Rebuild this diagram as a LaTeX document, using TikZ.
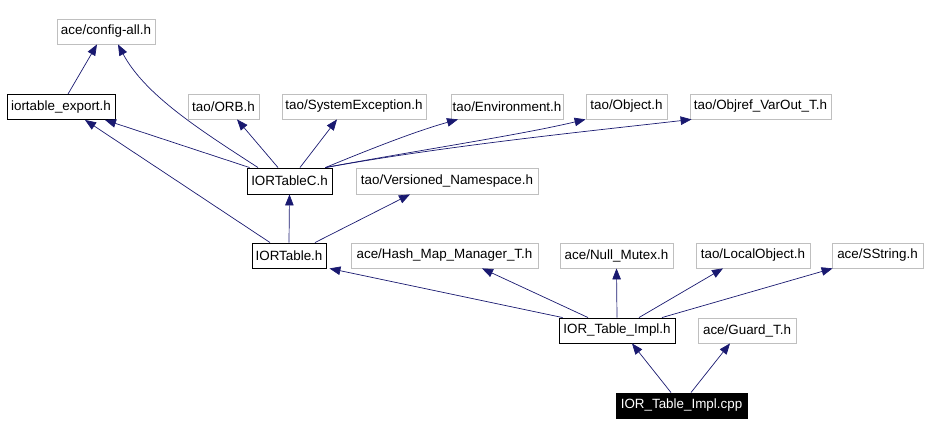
\documentclass[tikz,border=0pt]{standalone}
\usepackage{fontspec}
\setmainfont{Liberation Sans}
\usetikzlibrary{arrows.meta,calc}
\definecolor{edgeblue}{HTML}{191970}
\definecolor{boxgray}{HTML}{BFBFBF}
\tikzset{
  gbox/.style={draw=boxgray, line width=0.8pt, minimum height=25pt, inner sep=0pt, font=\fontsize{13.4}{15}\selectfont, text=black},
  kbox/.style={draw=black, line width=0.9pt, minimum height=25pt, inner sep=0pt, font=\fontsize{13.4}{15}\selectfont, text=black},
  fbox/.style={draw=black, fill=black, line width=0.9pt, minimum height=25pt, inner sep=0pt, font=\fontsize{13.4}{15}\selectfont, text=white},
  dep/.style={draw=edgeblue, line width=0.7pt, -{Triangle[length=11pt,width=8.5pt]}, fill=none},
}
\begin{document}
\begin{tikzpicture}[x=1pt,y=-1pt]
\useasboundingbox (0,0) rectangle (927,435);
% nodes
\node[gbox, minimum width=98pt] (config) at (106,31.5) {ace/config-all.h};
\node[kbox, minimum width=108pt] (export) at (61,107) {iortable\_export.h};
\node[gbox, minimum width=71pt] (orb) at (223.5,106.5) {tao/ORB.h};
\node[gbox, minimum width=144pt] (sysexc) at (354,106.5) {tao/SystemException.h};
\node[gbox, minimum width=112pt] (env) at (507,106.5) {tao/Environment.h};
\node[gbox, minimum width=81pt] (object) at (626.5,106.5) {tao/Object.h};
\node[gbox, minimum width=141pt] (objref) at (760.5,106.5) {tao/Objref\_VarOut\_T.h};
\node[kbox, minimum width=85pt, minimum height=26pt] (ctc) at (289.5,181) {IORTableC.h};
\node[gbox, minimum width=182pt, minimum height=26pt] (vers) at (447,181) {tao/Versioned\_Namespace.h};
\node[kbox, minimum width=74pt] (itab) at (289,255.5) {IORTable.h};
\node[gbox, minimum width=187pt] (hash) at (444.5,255.5) {ace/Hash\_Map\_Manager\_T.h};
\node[gbox, minimum width=113pt] (mutex) at (616.5,255.5) {ace/Null\_Mutex.h};
\node[gbox, minimum width=114pt] (local) at (753,255.5) {tao/LocalObject.h};
\node[gbox, minimum width=91pt] (sstr) at (877.5,255.5) {ace/SString.h};
\node[kbox, minimum width=116pt] (impl) at (617,330.5) {IOR\_Table\_Impl.h};
\node[gbox, minimum width=98pt] (guard) at (747,330.5) {ace/Guard\_T.h};
\node[fbox, minimum width=131pt] (cpp) at (681.5,405.5) {IOR\_Table\_Impl.cpp};
% edges
\draw[dep] ($(export.north)+(7,0)$) -- ($(config.south)+(-9,0)$);
\draw[dep] ($(ctc.north)+(-31.5,0)$) .. controls (200,130) and (145,95) .. ($(config.south)+(12,0)$);
\draw[dep] ($(ctc.north west)+(3,0)$) -- ($(export.south)+(44,0)$);
\draw[dep] ($(itab.north)+(-19,0)$) -- ($(export.south)+(24,0)$);
\draw[dep] ($(ctc.north)+(-11.5,0)$) -- ($(orb.south)+(13.5,0)$);
\draw[dep] ($(ctc.north)+(10.5,0)$) -- ($(sysexc.south)+(-17,0)$);
\draw[dep] ($(ctc.north east)+(-7,0)$) .. controls (380,145) and (420,130) .. ($(env.south)+(-49,0)$);
\draw[dep] ($(ctc.north east)+(-7,0)$) .. controls (420,150) and (520,135) .. (object.south west);
\draw[dep] ($(ctc.north east)+(-7,0)$) .. controls (450,145) and (600,130) .. ($(objref.south west)+(2,0)$);
\draw[dep] (itab.north) -- (ctc.south);
\draw[dep] ($(itab.north)+(26,0)$) -- ($(vers.south)+(-37,0)$);
\draw[dep] ($(impl.north west)+(4,0)$) -- ($(itab.south east)+(3,0)$);
\draw[dep] ($(impl.north)+(-29,0)$) -- ($(hash.south)+(37.5,0)$);
\draw[dep] (impl.north) -- (mutex.south);
\draw[dep] ($(impl.north)+(22,0)$) -- ($(local.south)+(-30,0)$);
\draw[dep] ($(impl.north)+(45,0)$) -- ($(sstr.south west)+(1,0)$);
\draw[dep] ($(cpp.north)+(-10.5,0)$) -- ($(impl.south)+(15,0)$);
\draw[dep] ($(cpp.north)+(9.5,0)$) -- ($(guard.south)+(-17,0)$);
\end{tikzpicture}
\end{document}
